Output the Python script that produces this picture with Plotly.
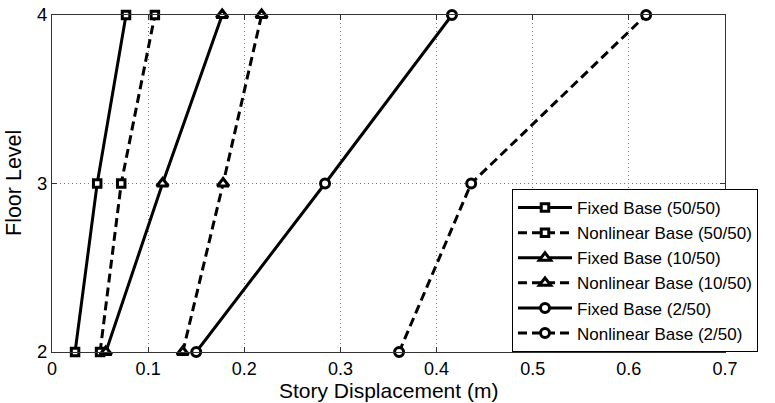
import plotly.graph_objects as go

floors = [2, 3, 4]
fixed_50 = [0.024, 0.047, 0.077]
nonlin_50 = [0.050, 0.072, 0.107]
fixed_10 = [0.056, 0.115, 0.177]
nonlin_10 = [0.136, 0.178, 0.218]
fixed_2 = [0.150, 0.284, 0.416]
nonlin_2 = [0.361, 0.436, 0.618]

x_ticks = [0, 0.1, 0.2, 0.3, 0.4, 0.5, 0.6, 0.7]
x_tick_labels = ["0", "0.1", "0.2", "0.3", "0.4", "0.5", "0.6", "0.7"]
y_ticks = [2, 3, 4]

names = ["Fixed Base (50/50)", "Nonlinear Base (50/50)", "Fixed Base (10/50)",
         "Nonlinear Base (10/50)", "Fixed Base (2/50)", "Nonlinear Base (2/50)"]
series = [fixed_50, nonlin_50, fixed_10, nonlin_10, fixed_2, nonlin_2]
symbols = ["square", "square", "triangle-up", "triangle-up", "circle", "circle"]
dashes = ["solid", "9px,5px", "solid", "9px,5px", "solid", "9px,5px"]
sizes = [7.5, 7.5, 10, 10, 9, 9]

fig = go.Figure()
for name, xs, sym, dash, sz in zip(names, series, symbols, dashes, sizes):
    fig.add_trace(go.Scatter(
        x=xs, y=floors, name=name, mode="lines+markers",
        line=dict(color="black", width=3, dash=dash),
        marker=dict(symbol=sym, size=sz, color="white",
                    line=dict(color="black", width=3)),
        cliponaxis=False,
    ))

font = "Liberation Sans, Arial, Helvetica, sans-serif"
fig.update_layout(
    width=775, height=403,
    margin=dict(l=52, r=50, t=15, b=51, autoexpand=False),
    paper_bgcolor="white", plot_bgcolor="white",
    font=dict(family=font, size=17, color="black"),
    showlegend=True,
    legend=dict(x=0.6835, y=0.4837, xanchor="left", yanchor="top",
                bgcolor="white", bordercolor="black", borderwidth=1,
                font=dict(size=17, family=font), tracegroupgap=0,
                itemwidth=54),
    annotations=[
        dict(text="Floor Level", textangle=-90, xref="paper", yref="paper",
             x=0, y=0.5, xanchor="center", yanchor="middle", xshift=-38.5,
             showarrow=False, font=dict(size=21.5, family=font)),
        dict(text="Story Displacement (m)", xref="paper", yref="paper",
             x=0.5, y=0, xanchor="center", yanchor="middle", yshift=-38.5,
             showarrow=False, font=dict(size=21, family=font)),
    ],
)
fig.update_xaxes(
    range=[0, 0.7], tickvals=x_ticks, ticktext=x_tick_labels,
    showline=True, linecolor="#333", linewidth=1, mirror="ticks",
    ticks="inside", ticklen=5, tickcolor="#333",
    showgrid=True, gridcolor="#777", griddash="1px,3px", gridwidth=1,
    zeroline=False, automargin=False, ticklabeloverflow="allow",
    tickfont=dict(size=18),
)
fig.update_yaxes(
    range=[2, 4], tickvals=y_ticks, ticktext=[str(v) for v in y_ticks],
    showline=True, linecolor="#333", linewidth=1, mirror="ticks",
    ticks="inside", ticklen=5, tickcolor="#333",
    showgrid=True, gridcolor="#777", griddash="1px,3px", gridwidth=1,
    zeroline=False, automargin=False, ticklabeloverflow="allow",
    tickfont=dict(size=18.5),
)
fig.write_html("out.html",
               config={"displayModeBar": False},
               post_script="document.body.style.margin='0px';")
